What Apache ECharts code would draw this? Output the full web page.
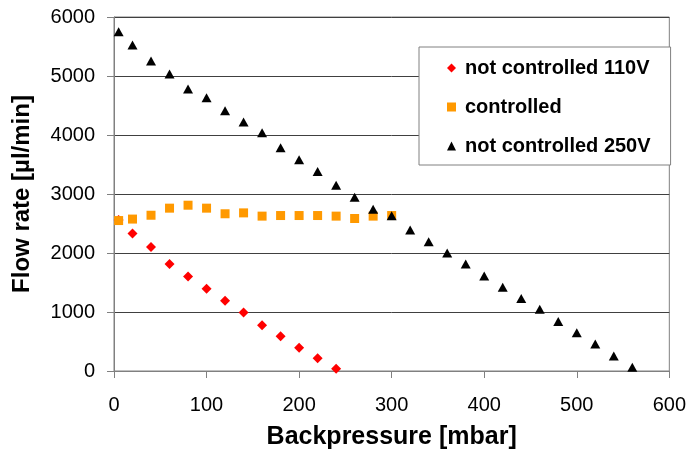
<!DOCTYPE html>
<html>
<head>
<meta charset="utf-8">
<script src="https://cdn.jsdelivr.net/npm/echarts@6/dist/echarts.min.js"></script>
<style>
  html, body { margin: 0; padding: 0; background: #fff; }
  #chart { width: 689px; height: 458px; }
</style>
</head>
<body>
<div id="chart"></div>
<script>
// backpressure values (mbar)
var pressure110 = [5, 20, 40, 60, 80, 100, 120, 140, 160, 180, 200, 220, 240];
var flow110 = [2560, 2330, 2100, 1815, 1600, 1395, 1190, 990, 775, 590, 395, 215, 40];

var pressureCtrl = [5, 20, 40, 60, 80, 100, 120, 140, 160, 180, 200, 220, 240, 260, 280, 300];
var flowCtrl = [2550, 2575, 2640, 2760, 2810, 2760, 2665, 2680, 2625, 2635, 2635, 2635, 2625, 2585, 2625, 2635];

var pressure250 = [5, 20, 40, 60, 80, 100, 120, 140, 160, 180, 200, 220, 240, 260, 280, 300,
                   320, 340, 360, 380, 400, 420, 440, 460, 480, 500, 520, 540, 560];
var flow250 = [5750, 5525, 5255, 5035, 4780, 4630, 4410, 4220, 4040, 3785, 3580, 3380, 3150, 2945, 2740, 2630,
               2390, 2190, 2000, 1815, 1610, 1420, 1230, 1045, 838, 650, 458, 255, 62];

var seriesNames = ['not controlled 110V', 'controlled', 'not controlled 250V'];

function pairs(xs, ys) {
  var out = [];
  for (var i = 0; i < xs.length; i++) out.push([xs[i], ys[i]]);
  return out;
}

var chart = echarts.init(document.getElementById('chart'));
var font = 'Liberation Sans, Arial, sans-serif';

chart.setOption({
  backgroundColor: '#fff',
  animation: false,
  textStyle: { fontFamily: font },
  grid: {
    left: 114, right: 19, top: 17, bottom: 87,
    show: true, borderColor: '#808080', borderWidth: 1
  },
  legend: {
    orient: 'vertical',
    left: 419, top: 47,
    backgroundColor: '#fff',
    borderColor: '#808080', borderWidth: 1,
    padding: [11, 20, 9, 28],
    itemGap: 19,
    itemWidth: 9, itemHeight: 9,
    data: seriesNames,
    textStyle: {
      fontFamily: font, fontSize: 20, fontWeight: 'bold', color: '#000',
      lineHeight: 20, padding: [0, 0, 0, 4]
    }
  },
  xAxis: {
    type: 'value', min: 0, max: 600, interval: 100,
    name: 'Backpressure [mbar]',
    nameLocation: 'middle', nameGap: 54,
    nameTextStyle: { fontFamily: font, fontSize: 25, fontWeight: 'bold', color: '#000' },
    axisLine: { show: true, lineStyle: { color: '#808080', width: 1 } },
    axisTick: { show: true, inside: false, length: 7, lineStyle: { color: '#808080' } },
    axisLabel: { fontFamily: font, fontSize: 20, color: '#000', margin: 24,
      formatter: function (v) { return String(v); } },
    splitLine: { show: false }
  },
  yAxis: {
    type: 'value', min: 0, max: 6000, interval: 1000,
    name: 'Flow rate [µl/min]',
    nameLocation: 'middle', nameGap: 80,
    nameTextStyle: { fontFamily: font, fontSize: 24, fontWeight: 'bold', color: '#000' },
    axisLine: { show: true, lineStyle: { color: '#808080', width: 1 } },
    axisTick: { show: true, inside: false, length: 7, lineStyle: { color: '#808080' } },
    axisLabel: { fontFamily: font, fontSize: 20, color: '#000', margin: 19,
      formatter: function (v) { return String(v); } },
    splitLine: { show: true, lineStyle: { color: '#404040', width: 1 } }
  },
  series: [
    {
      name: seriesNames[0], type: 'scatter',
      symbol: 'diamond', symbolSize: [10, 10],
      itemStyle: { color: '#ff0000', opacity: 1 },
      data: pairs(pressure110, flow110), z: 2
    },
    {
      name: seriesNames[1], type: 'scatter',
      symbol: 'rect', symbolSize: [9, 9],
      itemStyle: { color: '#ff9900', opacity: 1 },
      data: pairs(pressureCtrl, flowCtrl), z: 3
    },
    {
      name: seriesNames[2], type: 'scatter',
      symbol: 'triangle', symbolSize: [10, 9],
      itemStyle: { color: '#000000', opacity: 1 },
      data: pairs(pressure250, flow250), z: 4
    }
  ]
});
</script>
</body>
</html>
